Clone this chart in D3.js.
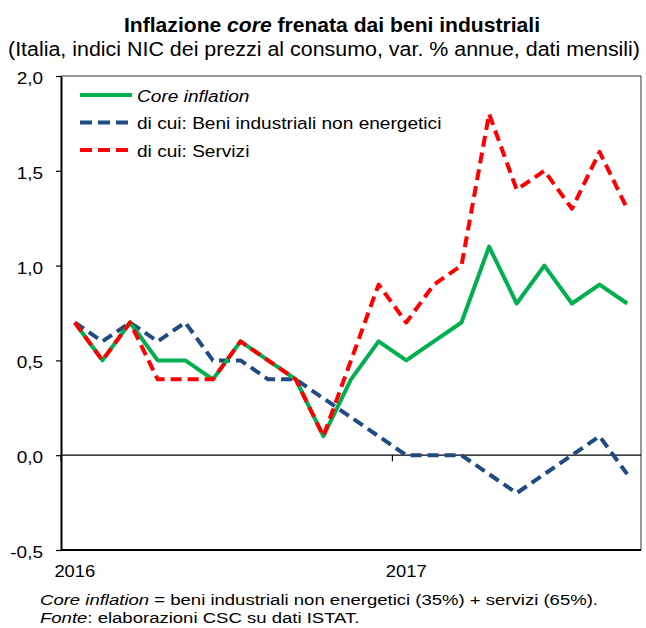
<!DOCTYPE html>
<html><head><meta charset="utf-8">
<script src="https://cdn.jsdelivr.net/npm/d3@7"></script>
<style>
body{margin:0;background:#fff;}
svg{display:block;font-family:"Liberation Sans",Arial,sans-serif;}
</style></head>
<body>
<script>
const months = ["2016-01","2016-02","2016-03","2016-04","2016-05","2016-06","2016-07","2016-08","2016-09","2016-10","2016-11","2016-12",
"2017-01","2017-02","2017-03","2017-04","2017-05","2017-06","2017-07","2017-08","2017-09"];
const coreInflation = [0.7,0.5,0.7,0.5,0.5,0.4,0.6,0.5,0.4,0.1,0.4,0.6,0.5,0.6,0.7,1.1,0.8,1.0,0.8,0.9,0.8];
const beniIndustriali = [0.7,0.6,0.7,0.6,0.7,0.5,0.5,0.4,0.4,0.3,0.2,0.1,0.0,0.0,0.0,-0.1,-0.2,-0.1,0.0,0.1,-0.1];
const servizi = [0.7,0.5,0.7,0.4,0.4,0.4,0.6,0.5,0.4,0.1,0.5,0.9,0.7,0.9,1.0,1.8,1.4,1.5,1.3,1.6,1.3];
const seriesNames = ["Core inflation","di cui: Beni industriali non energetici","di cui: Servizi"];
const yTicks = [-0.5,0,0.5,1,1.5,2];
const yearLabels = ["2016","2017"];
const yearStarts = ["2016-01","2017-01"];

const W=646,H=628;
const svg=d3.select("body").append("svg").attr("width",W).attr("height",H);
const L=61,R=641,T=76,B=550;
const x=d3.scaleBand().domain(months).range([L,R]);
const y=d3.scaleLinear().domain([-0.5,2]).range([B,T]);
const fmt=v=>d3.format(".1f")(v).replace(".",",").replace("−","-");
const K=1.11;
function stretch(sel,k){sel.each(function(){const n=this.getComputedTextLength();d3.select(this).attr("textLength",n*k).attr("lengthAdjust","spacingAndGlyphs");});}

// title
svg.append("text").attr("x",124).attr("y",31.5).attr("textLength",416).attr("lengthAdjust","spacingAndGlyphs")
  .attr("font-size",20.5).attr("font-weight","bold")
  .call(t=>{t.append("tspan").text("Inflazione ");t.append("tspan").attr("font-style","italic").text("core");t.append("tspan").text(" frenata dai beni industriali");});
svg.append("text").attr("x",8).attr("y",56).attr("textLength",632).attr("lengthAdjust","spacingAndGlyphs")
  .attr("font-size",20).text("(Italia, indici NIC dei prezzi al consumo, var. % annue, dati mensili)");

// frame top/right
svg.append("path").attr("d",`M${L},${T}H${R}V${B}`).attr("fill","none").attr("stroke","#333").attr("stroke-width",1);

// y axis
const ya=svg.append("g").attr("transform",`translate(${L},0)`)
  .call(d3.axisLeft(y).tickValues(yTicks).tickFormat(fmt).tickSize(5).tickSizeOuter(0));
ya.select(".domain").attr("stroke","#000").attr("stroke-width",2);
ya.selectAll(".tick line").attr("stroke","#000").attr("stroke-width",1.2);
ya.selectAll(".tick text").attr("font-size",16.5).attr("font-family","Liberation Sans, Arial, sans-serif").attr("fill","#000").attr("x",-18).attr("dy",7.5);
ya.selectAll(".tick text").call(stretch,1.15);

// bottom line
svg.append("line").attr("x1",L).attr("x2",R).attr("y1",B).attr("y2",B).attr("stroke","#000").attr("stroke-width",2);

// zero axis with year boundary ticks
const xa=svg.append("g").attr("transform",`translate(0,${y(0)})`)
  .call(d3.axisBottom(x).tickValues(yearStarts).tickFormat("").tickSize(6).tickSizeOuter(0).offset(0));
xa.select(".domain").attr("stroke","#000").attr("stroke-width",1.3);
xa.selectAll(".tick").attr("transform",d=>`translate(${x(d)},0)`);
xa.selectAll(".tick line").attr("stroke","#000").attr("stroke-width",1.2);

// year labels
svg.selectAll(".yl").data(yearStarts).join("text").attr("class","yl")
  .attr("x",d=>x(d)+x.bandwidth()/2).attr("y",577).attr("text-anchor","middle")
  .attr("font-size",16.5).text((d,i)=>yearLabels[i]).call(stretch,K);

const line=d3.line().x((d,i)=>x(months[i])+x.bandwidth()/2).y(d=>y(d));
const styles=[
  {data:coreInflation,color:"#00B050",dash:null},
  {data:beniIndustriali,color:"#1F4A82",dash:"11,6"},
  {data:servizi,color:"#FF0000",dash:"11,6"}
];
// draw order: beni, green, red
[1,0,2].forEach(k=>{
  const s=styles[k];
  svg.append("path").datum(s.data).attr("d",line).attr("fill","none")
    .attr("stroke",s.color).attr("stroke-width",4).attr("stroke-linejoin","round")
    .attr("stroke-dasharray",s.dash);
});

// legend
const lg=svg.append("g");
[0,1,2].forEach(k=>{
  const s=styles[k], yy=95+k*27.5;
  lg.append("line").attr("x1",80).attr("x2",132).attr("y1",yy).attr("y2",yy)
    .attr("stroke",s.color).attr("stroke-width",4).attr("stroke-dasharray",s.dash?"12,6":null);
  lg.append("text").attr("x",137).attr("y",yy+6.5).attr("font-size",17.2)
    .attr("font-style",k===0?"italic":null).text(seriesNames[k]).call(stretch,K);
});

// footer
svg.append("text").attr("x",40).attr("y",604.5).attr("font-size",15.5)
  .call(t=>{t.append("tspan").attr("font-style","italic").text("Core inflation");t.append("tspan").text(" = beni industriali non energetici (35%) + servizi (65%).");})
  .call(stretch,1.195);
svg.append("text").attr("x",40).attr("y",622.5).attr("font-size",15.5)
  .call(t=>{t.append("tspan").attr("font-style","italic").text("Fonte");t.append("tspan").text(": elaborazioni CSC su dati ISTAT.");})
  .call(stretch,1.195);
</script>
</body></html>
